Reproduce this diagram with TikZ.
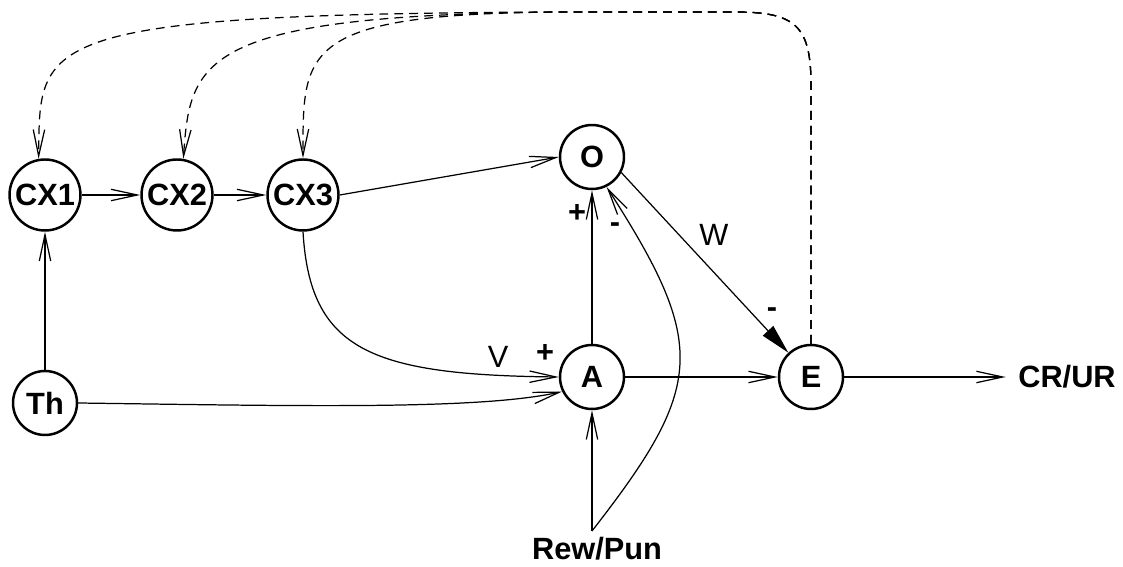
\documentclass[tikz,border=0pt]{standalone}
\usepackage{fontspec}
\setmainfont{Liberation Sans}
\usetikzlibrary{arrows.meta}
\begin{document}
\begin{tikzpicture}[x=0.02cm,y=-0.02cm,
  unit/.style={circle,draw,line width=1.4pt,inner sep=0pt,minimum size=1.28cm,
    font=\bfseries\fontsize{17.5}{20}\selectfont},
  bigunit/.style={unit,minimum size=1.42cm},
  tag/.style={inner sep=0pt,font=\bfseries\fontsize{17.5}{20}\selectfont},
  weight/.style={inner sep=0pt,font=\fontsize{17.5}{20}\selectfont},
  link/.style={line width=0.7pt,-{Straight Barb[length=15pt,width=6.5pt,line width=0.7pt]}},
  inhib/.style={line width=0.7pt,-{Triangle[length=17pt,width=8pt]}},
  feedback/.style={link,dash pattern=on 5pt off 3.5pt}]
\useasboundingbox (0,0) rectangle (1123,567);

% units
\node[bigunit] (cx1) at (45,195) {CX1};
\node[bigunit] (cx2) at (177,195) {CX2};
\node[bigunit] (cx3) at (303,195) {CX3};
\node[unit] (th) at (45,403) {Th};
\node[unit] (o) at (592,157) {O};
\node[unit] (a) at (592,377) {A};
\node[unit] (e) at (811,377) {E};

% inputs and output
\node[tag,inner xsep=7pt] (out) at (1067,377) {CR/UR};
\node[tag] (rew) at (597,549) {Rew/Pun};
\coordinate (rp) at (592,531);
\coordinate (top) at (560,12);

% feed-forward chain
\draw[link] (cx1) -- (cx2);
\draw[link] (cx2) -- (cx3);
\draw[link] (th) -- (cx1);
\draw[link] (cx3.east) -- (o.west);
\draw[link] (cx3.south) .. controls (310,350) and (370,375) .. (a.west);
\draw[link] (th.east) .. controls (300,406) and (480,410) .. (a.206);
\draw[link] (a) -- (o);
\draw[link] (rp) -- (a);
\draw[link] (rp) .. controls (705,386) and (708,345) .. (o.-64);
\draw[inhib] (o.-28) -- (e.133);
\draw[link] (a) -- (e);
\draw[link] (e) -- (out.west);

% feedback from E to the context units
\draw[feedback] (e.north) -- (811,85) .. controls (811,25) and (795,12) .. (735,12) -- (top)
  .. controls (30,14) and (40,40) .. (cx1.100);
\draw[feedback] (e.north) -- (811,85) .. controls (811,25) and (795,12) .. (735,12) -- (top)
  .. controls (200,15) and (190,60) .. (cx2.80);
\draw[feedback] (e.north) -- (811,85) .. controls (811,25) and (795,12) .. (735,12) -- (top)
  .. controls (300,14) and (303,50) .. (cx3.north);

% signs and weights
\node[tag] (pO) at (577,213) {+};
\node[tag] (mO) at (615,228) {-};
\node[tag] (pA) at (545,353) {+};
\node[tag] (mE) at (772,313) {-};
\node[weight] (w) at (714,235) {W};
\node[weight] (v) at (498,357) {V};
\end{tikzpicture}
\end{document}
